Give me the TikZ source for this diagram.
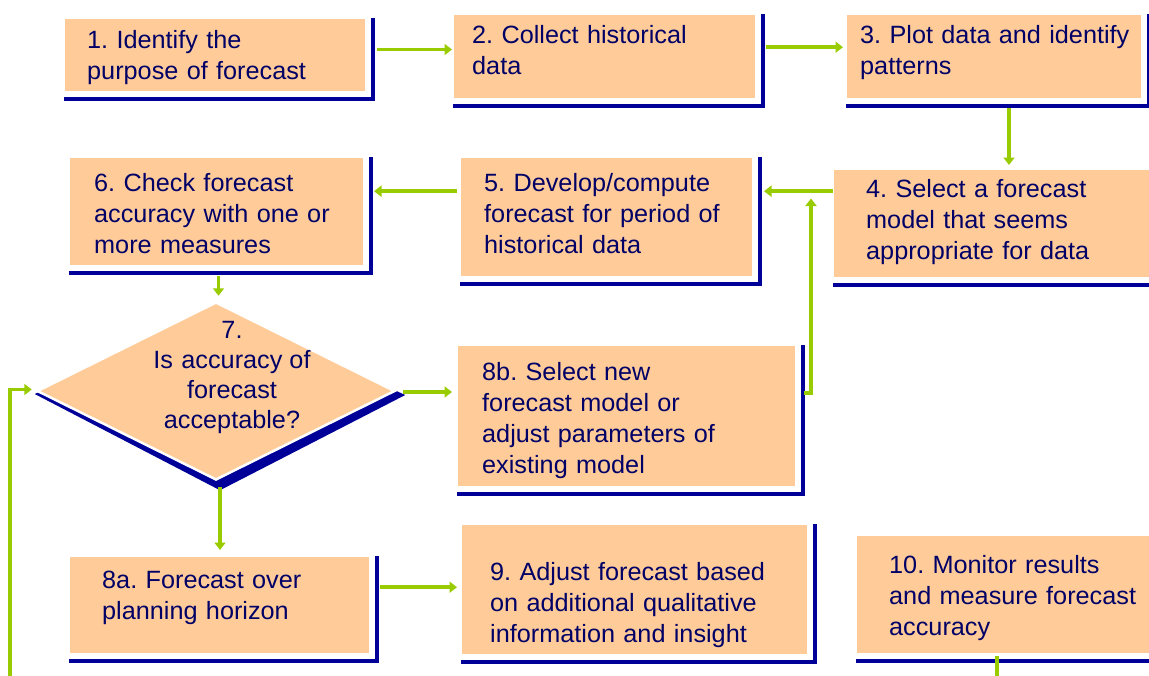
\documentclass[tikz,border=0pt]{standalone}
\usepackage{fontspec}
\setmainfont{Liberation Sans}[FakeStretch=1.01]
\frenchspacing
\usetikzlibrary{arrows.meta,shapes.geometric}
\definecolor{peach}{HTML}{FFCC99}
\definecolor{navy}{HTML}{000099}
\definecolor{ink}{HTML}{000066}
\definecolor{leaf}{HTML}{99CC00}
\pgfdeclarelayer{back}
\pgfsetlayers{back,main}
% label fonts with tight word spacing
\protected\def\boxfont{\fontsize{25}{31}\selectfont\spaceskip=5pt\relax}
\protected\def\askfont{\fontsize{25}{30}\selectfont\spaceskip=5pt\relax}

\begin{document}
\begin{tikzpicture}[x=1pt,y=-1pt,
  box/.style={fill=peach, draw=white, line width=1pt, anchor=north west, inner sep=0pt},
  rim/.style={navy, line width=4.5pt},
  txt/.style={anchor=north west, inner sep=0pt, text=ink, text width=330pt, align=left,
    font=\boxfont, execute at begin node=\strut},
  qtxt/.style={anchor=north, inner sep=0pt, text=ink, text width=220pt, align=center,
    font=\askfont, execute at begin node=\strut},
  arr/.style={leaf, line width=3.5pt, -{Triangle[length=7.5pt,width=11pt]}},
  link/.style={leaf, line width=3.5pt}
]
\clip (0,0) rectangle (1149,675);

% process boxes
\node[box, minimum width=301pt, minimum height=73pt]  (b1)  at (64,18)   {};
\node[box, minimum width=302pt, minimum height=84pt]  (b2)  at (453,14)  {};
\node[box, minimum width=295pt, minimum height=84pt]  (b3)  at (846,14)  {};
\node[box, minimum width=330pt, minimum height=108pt] (b4)  at (833,169) {};
\node[box, minimum width=292pt, minimum height=119pt] (b5)  at (460,157) {};
\node[box, minimum width=294pt, minimum height=108pt] (b6)  at (69,157)  {};
\node[box, minimum width=338pt, minimum height=141pt] (b8b) at (457,345) {};
\node[box, minimum width=300pt, minimum height=97pt]  (b8a) at (69,556)  {};
\node[box, minimum width=346pt, minimum height=130pt] (b9)  at (461,524) {};
\node[box, minimum width=310pt, minimum height=118pt] (b10) at (856,535) {};

% raised edge on the right and bottom of each box
\foreach \n in {b1,b2,b3,b4,b5,b6,b8b,b8a,b9,b10}
  \draw[rim] ([xshift=7pt]\n.north east) |- ([yshift=-7pt]\n.south west);

% decision diamond with its shadow behind
\node[diamond, fill=peach, draw=white, line width=2.5pt, inner sep=0pt,
      minimum width=358pt, minimum height=178pt] (d7) at (216,391) {};
\begin{pgfonlayer}{back}
  \fill[navy] ([shift={(-1,3)}]d7.west) -- ([shift={(4,9)}]d7.south)
     -- ([shift={(9,4)}]d7.east) -- ([shift={(2,9)}]d7.north) -- cycle;
\end{pgfonlayer}

% labels
\node[txt] (t1)  at (87,26.3)   {1. Identify the\\purpose of forecast};
\node[txt] (t2)  at (472,21.6)  {2. Collect historical\\data};
\node[txt] (t3)  at (860,21.6)  {3. Plot data and identify\\patterns};
\node[txt] (t4)  at (866,175.3) {4. Select a forecast\\model that seems\\appropriate for data};
\node[txt] (t5)  at (484,170)   {5. Develop/compute\\forecast for period of\\historical data};
\node[txt] (t6)  at (94,170)    {6. Check forecast\\accuracy with one or\\more measures};
\node[qtxt] (t7) at (232,317)   {7.\\Is accuracy\hspace{7pt}of\\forecast\\acceptable?};
\node[txt] (t8b) at (482,358.3) {8b. Select new\\forecast model or\\adjust parameters of\\existing model};
\node[txt] (t8a) at (102,566.3) {8a. Forecast over\\planning horizon};
\node[txt] (t9)  at (490,558.3) {9. Adjust forecast based\\on additional qualitative\\information and insight};
\node[txt] (t10) at (889,551.3) {10. Monitor results\\and measure forecast\\accuracy};

% connector start points
\coordinate (s12)  at ([xshift=11pt,yshift=5.5pt]b1.east);
\coordinate (s23)  at ([xshift=10pt,yshift=9.3pt]b2.east);
\coordinate (s34)  at ([xshift=15pt,yshift=-9pt]b3.south);
\coordinate (s45)  at ([yshift=32.3pt]b4.west);
\coordinate (s56)  at ([xshift=-3pt,yshift=25.8pt]b5.west);
\coordinate (s67)  at ([xshift=2pt,yshift=-10pt]b6.south);
\coordinate (s7b)  at ([xshift=7pt,yshift=-1pt]d7.east);
\coordinate (s7a)  at ([xshift=4pt,yshift=-6pt]d7.south);
\coordinate (s89)  at ([xshift=10pt,yshift=17.8pt]b8a.east);
\coordinate (s84)  at ([xshift=8pt,yshift=23pt]b8b.east);
\coordinate (s10)  at ([xshift=141pt,yshift=-2pt]b10.south west);
\coordinate (sret) at ([xshift=-26pt,yshift=-340pt]d7.west);

% connectors
\draw[arr, shorten >=1pt]  (s12) -- (s12 -| b2.west);
\draw[arr, shorten >=3pt]  (s23) -- (s23 -| b3.west);
\draw[arr, shorten >=4pt]  (s34) -- (s34 |- b4.north);
\draw[arr, shorten >=11pt] (s45) -- (s45 -| b5.east);
\draw[arr, shorten >=10pt] (s56) -- (s56 -| b6.east);
\draw[arr, shorten >=5pt]  (s67) -- (s67 |- d7.north);
\draw[arr, shorten >=5pt]  (s7b) -- (s7b -| b8b.west);
\draw[arr, shorten >=6pt]  (s7a) -- (s7a |- b8a.north);
\draw[arr, shorten >=4pt]  (s89) -- (s89 -| b9.west);
\draw[arr] (s84) -| ([xshift=-22pt,yshift=25pt]b4.west);
\draw[link] (s10) -- ++(0,40);
\draw[arr] (sret) |- ([xshift=-4pt,yshift=1.5pt]d7.west);
\end{tikzpicture}
\end{document}
